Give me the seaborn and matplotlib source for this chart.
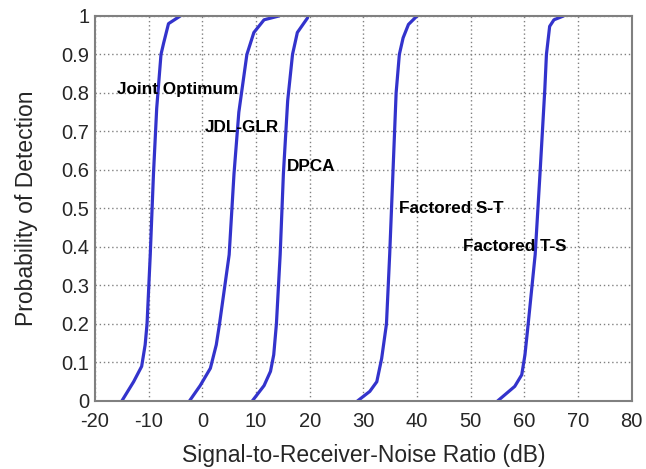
import matplotlib
matplotlib.use("Agg")
import matplotlib.pyplot as plt
import seaborn as sns
import pandas as pd

# Data
joint_x = [-15.0, -12.8, -11.3, -10.65, -10.3, -9.7, -9.1, -8.5, -7.7, -7.2, -6.3, -4.1]
joint_y = [0.0, 0.05, 0.09, 0.146, 0.2, 0.38, 0.59, 0.76, 0.9, 0.93, 0.98, 1.0]

jdl_x = [-2.4, -0.4, 1.5, 2.6, 3.2, 5.0, 5.9, 6.8, 8.3, 9.6, 11.5, 14.3]
jdl_y = [0.0, 0.04, 0.085, 0.146, 0.2, 0.38, 0.59, 0.75, 0.9, 0.957, 0.99, 1.0]

dpca_x = [9.3, 11.5, 12.7, 13.3, 13.8, 14.5, 15.1, 15.9, 16.8, 17.7, 19.6]
dpca_y = [0.0, 0.04, 0.077, 0.12, 0.2, 0.38, 0.59, 0.78, 0.9, 0.957, 0.995]

fst_x = [28.9, 31.2, 32.5, 33.4, 34.3, 34.9, 35.5, 36.1, 36.7, 37.4, 38.4, 40.0]
fst_y = [0.0, 0.025, 0.05, 0.11, 0.2, 0.38, 0.59, 0.80, 0.9, 0.943, 0.978, 1.0]

fts_x = [55.0, 58.2, 59.5, 60.1, 60.7, 62.0, 62.9, 63.8, 64.1, 64.7, 65.5, 67.3]
fts_y = [0.0, 0.038, 0.068, 0.12, 0.2, 0.38, 0.59, 0.81, 0.9, 0.973, 0.99, 1.0]

names = ["Joint Optimum", "JDL-GLR", "DPCA", "Factored S-T", "Factored T-S"]
label_x = [-15.9, 0.4, 15.7, 36.6, 48.6]
label_y = [0.81, 0.71, 0.61, 0.50, 0.40]

x_ticks = [-20, -10, 0, 10, 20, 30, 40, 50, 60, 70, 80]
y_ticks = [0, 0.1, 0.2, 0.3, 0.4, 0.5, 0.6, 0.7, 0.8, 0.9, 1]
y_tick_labels = ["0", "0.1", "0.2", "0.3", "0.4", "0.5", "0.6", "0.7", "0.8", "0.9", "1"]

sns.set_style("white")
plt.rcParams["font.family"] = ["Liberation Sans", "DejaVu Sans"]

fig = plt.figure(figsize=(6.46, 4.69), dpi=100)
ax = fig.add_axes([0.147, 0.145, 0.831, 0.821])

series = [(joint_x, joint_y), (jdl_x, jdl_y), (dpca_x, dpca_y), (fst_x, fst_y), (fts_x, fts_y)]
for name, (xs, ys) in zip(names, series):
    df = pd.DataFrame({"snr": xs, "pd": ys})
    sns.lineplot(data=df, x="snr", y="pd", ax=ax, sort=False, estimator=None,
                 color="#3333CC", linewidth=2.3, solid_capstyle="round",
                 solid_joinstyle="round")

for name, lx, ly in zip(names, label_x, label_y):
    ax.text(lx, ly, name, fontsize=12.3, fontweight="bold", ha="left", va="center", color="black")

ax.set_xlim(-20, 80)
ax.set_ylim(0, 1)
ax.set_xticks(x_ticks)
ax.set_xticklabels([str(t) for t in x_ticks])
ax.set_yticks(y_ticks)
ax.set_yticklabels(y_tick_labels)
ax.tick_params(axis="x", labelsize=14.5, length=0, pad=8)
ax.tick_params(axis="y", labelsize=14.5, length=0, pad=4)
ax.grid(True, linestyle=(0, (1, 2)), color="#808080", linewidth=1.0)
for s in ax.spines.values():
    s.set_color("#808080")
    s.set_linewidth(1.5)
ax.set_xlabel("Signal-to-Receiver-Noise Ratio (dB)", fontsize=16.5, labelpad=9)
ax.set_ylabel("Probability of Detection", fontsize=16.5, labelpad=17)

fig.savefig("out.png", dpi=100)
